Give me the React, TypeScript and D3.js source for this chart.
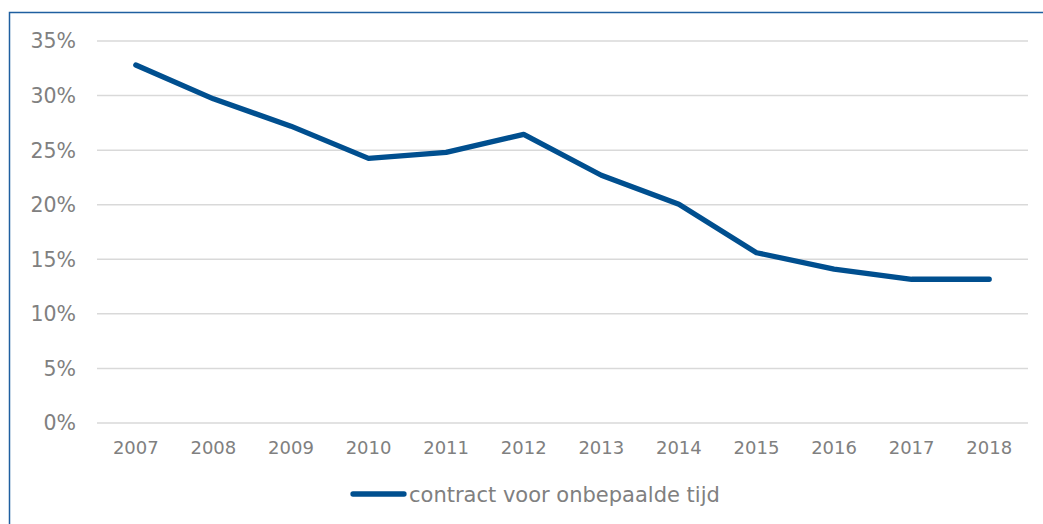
import * as d3 from 'd3'

const years = ['2007', '2008', '2009', '2010', '2011', '2012', '2013', '2014', '2015', '2016', '2017', '2018']
const values = [32.8, 29.7, 27.2, 24.25, 24.8, 26.45, 22.7, 20.05, 15.6, 14.1, 13.17, 13.17]
const yTicks = [0, 5, 10, 15, 20, 25, 30, 35]
const seriesName = 'contract voor onbepaalde tijd'

const W = 1043
const H = 524
const left = 97
const right = 1028
const top = 41
const bottom = 423
const font = '"DejaVu Sans", Verdana, sans-serif'
const lineColor = '#004f8f'
const textColor = '#808080'

export default function App() {
  const x = d3.scaleBand<string>().domain(years).range([left, right])
  const y = d3.scaleLinear().domain([0, 35]).range([bottom, top])

  const line = d3
    .line<number>()
    .x((_, i) => (x(years[i]) ?? 0) + x.bandwidth() / 2)
    .y(d => y(d))

  return (
    <svg
      width={W}
      height={H}
      style={{ position: 'fixed', left: 0, top: 0, background: '#fff' }}
    >
      {/* frame */}
      <rect x={9.5} y={12.5} width={1100} height={600} fill="none" stroke="#1f5fa0" strokeWidth={1.5} />

      {/* gridlines + y labels */}
      {yTicks.map(t => (
        <g key={t}>
          <line x1={left} x2={right} y1={y(t)} y2={y(t)} stroke="#d9d9d9" strokeWidth={1.5} />
          <text
            x={76}
            y={y(t)}
            dy="0.36em"
            textAnchor="end"
            fontFamily={font}
            fontSize={20.5}
            fill={textColor}
          >
            {t}%
          </text>
        </g>
      ))}

      {/* x labels */}
      {years.map(yr => (
        <text
          key={yr}
          x={(x(yr) ?? 0) + x.bandwidth() / 2}
          y={454}
          textAnchor="middle"
          fontFamily={font}
          fontSize={18}
          fill={textColor}
        >
          {yr}
        </text>
      ))}

      <path
        d={line(values) ?? ''}
        fill="none"
        stroke={lineColor}
        strokeWidth={5.3}
        strokeLinejoin="round"
        strokeLinecap="round"
      />

      {/* legend */}
      <line x1={353} x2={404} y1={494} y2={494} stroke={lineColor} strokeWidth={5.3} strokeLinecap="round" />
      <text x={409} y={494} dy="0.36em" fontFamily={font} fontSize={21} fill={textColor}>
        {seriesName}
      </text>
    </svg>
  )
}
